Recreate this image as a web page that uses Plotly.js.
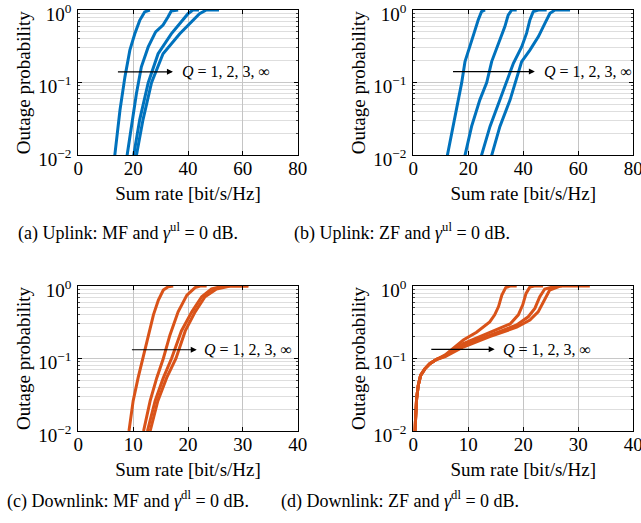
<!DOCTYPE html>
<html><head><meta charset="utf-8">
<script src="https://cdn.plot.ly/plotly-3.0.1.min.js"></script>
<style>html,body{margin:0;padding:0;background:#fff}#plot{width:641px;height:523px}</style>
</head><body><div id="plot"></div>
<script>
// Q = 1, 2, 3, inf curves per panel: sum rate [bit/s/Hz] and outage probability
const ulMF_rate = [
  [13.3,15.2,17.0,18.8,20.6,22.4,24.2,26.1],
  [17.8,19.4,21.2,23.0,25.5,28.2,30.9,32.7,33.9,36.4],
  [20.2,22.4,25.5,29.1,33.9,37.0,40.0,41.8,44.0],
  [21.2,23.6,26.7,30.9,37.0,40.6,44.2,46.7,51.3]
];
const ulMF_prob = [
  [0.01,0.042,0.12,0.28,0.47,0.72,0.94,1],
  [0.01,0.025,0.071,0.165,0.31,0.50,0.62,0.80,0.97,1],
  [0.01,0.031,0.10,0.25,0.47,0.65,0.89,1,1],
  [0.01,0.031,0.10,0.25,0.47,0.65,0.89,1,1]
];
const ulZF_rate = [
  [12.4,14.5,16.4,17.6,18.8,20.6,22.1,23.6,24.8,26.1],
  [18.8,21.2,24.2,26.7,28.5,30.9,33.3,34.5,35.8,37.6],
  [24.8,27.9,31.5,33.9,36.4,39.4,41.2,42.4,43.6,45.5,48.5],
  [28.5,31.5,35.2,37.0,39.4,42.4,45.5,47.9,49.7,51.5,57.0]
];
const ulZF_prob = [
  [0.01,0.025,0.058,0.10,0.195,0.31,0.48,0.73,0.95,1],
  [0.01,0.025,0.058,0.10,0.195,0.35,0.59,0.85,1,1],
  [0.01,0.025,0.058,0.10,0.185,0.31,0.48,0.73,0.95,1,1],
  [0.01,0.025,0.058,0.10,0.195,0.28,0.43,0.66,0.90,1,1]
];
const dlMF_rate = [
  [9.24,10.0,10.9,11.7,12.8,13.7,14.6,15.5,16.4,17.3],
  [11.9,13.1,14.3,15.5,16.7,18.2,19.8,21.3,22.2,23.4],
  [12.6,14.0,15.5,17.0,18.8,20.7,22.5,24.3,26.4,31.0],
  [13.1,14.5,16.1,17.8,19.5,21.3,23.1,25.2,27.7,31.0]
];
const dlMF_prob = [
  [0.01,0.026,0.054,0.10,0.21,0.40,0.64,0.88,0.98,1],
  [0.01,0.026,0.054,0.10,0.21,0.44,0.75,0.95,1,1],
  [0.01,0.026,0.054,0.10,0.24,0.44,0.71,0.91,1,1],
  [0.01,0.026,0.054,0.10,0.24,0.44,0.71,0.91,1,1]
];
const dlZF_rate = [
  [0.3,0.42,0.6,0.9,1.33,2.1,3.0,4.2,5.8,9.1,11.5,13.9,14.8,15.5,16.1,16.8,17.6,18.8],
  [0.3,0.42,0.6,0.9,1.33,2.1,3.0,4.2,5.8,9.1,13.3,17.6,19.1,19.9,20.5,21.2,22.0,23.6],
  [0.3,0.42,0.6,0.9,1.33,2.1,3.0,4.2,5.8,9.1,13.9,18.8,20.9,22.1,23.0,23.9,26.1,27.0],
  [0.3,0.42,0.6,0.9,1.33,2.1,3.0,4.2,5.8,9.1,13.9,18.8,21.2,22.7,23.9,24.8,26.7,32.1]
];
const dlZF_prob = [
  [0.01,0.0163,0.0277,0.0425,0.0585,0.072,0.085,0.097,0.112,0.18,0.23,0.32,0.40,0.52,0.75,0.95,1,1],
  [0.01,0.0163,0.0277,0.0425,0.0585,0.072,0.085,0.097,0.110,0.16,0.22,0.30,0.40,0.55,0.79,0.97,1,1],
  [0.01,0.0163,0.0277,0.0425,0.0585,0.072,0.085,0.097,0.108,0.152,0.21,0.29,0.376,0.49,0.71,0.91,1,1],
  [0.01,0.0163,0.0277,0.0425,0.0585,0.072,0.085,0.097,0.106,0.144,0.20,0.27,0.34,0.44,0.64,0.88,1,1]
];
const yTickVals = [0.01, 0.1, 1];
const yTickText = ['10<sup>−2</sup>','10<sup>−1</sup>','10<sup>0</sup>'];
const yMinorVals = [0.02,0.03,0.04,0.05,0.06,0.07,0.08,0.09,0.2,0.3,0.4,0.5,0.6,0.7,0.8,0.9];
const ulTicks = [0,20,40,60,80];
const dlTicks = [0,10,20,30,40];
const captions = [
  '(a) Uplink: MF and <i>γ</i><sup>ul</sup> = 0 dB.',
  '(b) Uplink: ZF and <i>γ</i><sup>ul</sup> = 0 dB.',
  '(c) Downlink: MF and <i>γ</i><sup>dl</sup> = 0 dB.',
  '(d) Downlink: ZF and <i>γ</i><sup>dl</sup> = 0 dB.'
];
const qLabel = '<i>Q</i> = 1, 2, 3, ∞';

const BLUE = '#0072BD', ORANGE = '#D95319';
const W = 641, H = 523;
const FONT = 'Liberation Serif, Times New Roman, serif';
const AX = 19;

const panels = [
  {rate: ulMF_rate, prob: ulMF_prob, color: BLUE, xr:[0,80], ticks: ulTicks, x0:78.3, x1:297.7, y0:10, y1:155.3, arrow:[13.9,34.5,0.141], textx:37.0},
  {rate: ulZF_rate, prob: ulZF_prob, color: BLUE, xr:[0,80], ticks: ulTicks, x0:413.3, x1:633.3, y0:10, y1:155.3, arrow:[13.9,44.2,0.142], textx:46.7},
  {rate: dlMF_rate, prob: dlMF_prob, color: ORANGE, xr:[0,40], ticks: dlTicks, x0:78.3, x1:297.7, y0:286, y1:431, arrow:[9.5,21.6,0.132], textx:22.6},
  {rate: dlZF_rate, prob: dlZF_prob, color: ORANGE, xr:[0,40], ticks: dlTicks, x0:413.3, x1:633.3, y0:286, y1:431, arrow:[3.0,14.8,0.134], textx:15.9}
];

const data = [];
const layout = {
  width: W, height: H, margin:{l:0,r:0,t:0,b:0}, showlegend:false,
  paper_bgcolor:'#fff', plot_bgcolor:'#fff',
  font:{family:FONT, size:16, color:'#000'},
  annotations: []
};

panels.forEach((p, i) => {
  const k = i + 1;
  const xa = 'x' + (k === 1 ? '' : k), ya = 'y' + (k === 1 ? '' : k);
  p.rate.forEach((r, j) => {
    data.push({x: r, y: p.prob[j], xaxis: xa, yaxis: ya, type:'scatter', mode:'lines',
      line:{color:p.color, width:3}, hoverinfo:'skip'});
  });
  layout['xaxis' + (k === 1 ? '' : k)] = {
    domain:[p.x0/W, p.x1/W], anchor: ya, range: p.xr, tickvals: p.ticks,
    ticks:'inside', ticklen:4, tickcolor:'#000', showline:true, linecolor:'#000', linewidth:1, mirror:'ticks',
    showgrid:true, gridcolor:'#c4c4c4', gridwidth:1, zeroline:false, ticklabeloverflow:'allow',
    tickfont:{family:FONT, size:AX}, ticklabelstandoff: -4,
    title:{text:'Sum rate [bit/s/Hz]', font:{family:FONT, size:AX}, standoff:8}
  };
  layout['yaxis' + (k === 1 ? '' : k)] = {
    domain:[1 - p.y1/H, 1 - p.y0/H], anchor: xa, type:'log', range:[-2,0],
    tickvals: yTickVals, ticktext: yTickText, ticklabeloverflow:'allow', ticklabelshift:4,
    ticks:'inside', ticklen:4, tickcolor:'#000', showline:true, linecolor:'#000', linewidth:1, mirror:'ticks',
    showgrid:true, gridcolor:'#c8c8c8', gridwidth:1, zeroline:false,
    minor:{tickmode:'array', tickvals: yMinorVals, showgrid:true, gridcolor:'#dedede', gridwidth:1, ticks:'inside', ticklen:2, tickcolor:'#444'},
    tickfont:{family:FONT, size:AX}, ticklabelstandoff: 2,
    title:{text:'Outage probability', font:{family:FONT, size:AX}, standoff:2}
  };
  const [ax0, ax1, ay] = p.arrow;
  layout.annotations.push({
    xref: xa, yref: ya, x: ax1, y: Math.log10(ay), axref: xa, ayref: ya, ax: ax0, ay: Math.log10(ay),
    text:'', showarrow:true, arrowhead:2, arrowsize:1, arrowwidth:1.2, arrowcolor:'#000', standoff:0
  });
  layout.annotations.push({
    xref: xa, yref: ya, x: p.textx, y: Math.log10(ay), text: qLabel, showarrow:false,
    xanchor:'left', yanchor:'middle', font:{family:FONT, size:16, color:'#000'}
  });
});

const capPos = [[128,232],[402,232],[128,500],[400,500]];
captions.forEach((c, i) => {
  layout.annotations.push({xref:'paper', yref:'paper', x: capPos[i][0]/W, y: 1 - capPos[i][1]/H,
    text:c, showarrow:false, xanchor:'center', yanchor:'middle', font:{family:FONT, size:18, color:'#000'}});
});

Plotly.newPlot('plot', data, layout, {staticPlot:true, displayModeBar:false});
</script></body></html>
